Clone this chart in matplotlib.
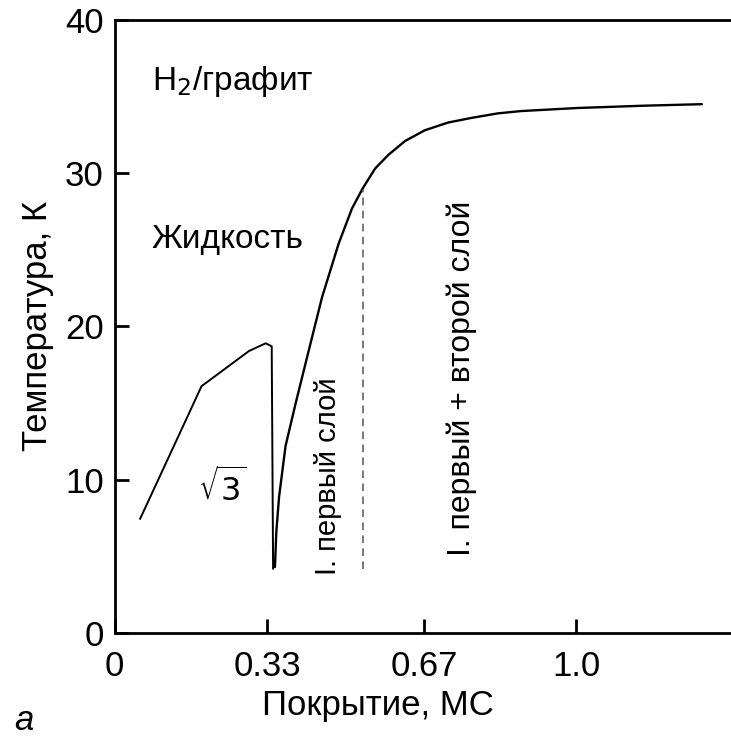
import matplotlib
matplotlib.use('Agg')
import matplotlib.pyplot as plt
from matplotlib import font_manager

# pick a narrow face if one is installed, the original uses a condensed sans
names = {f.name for f in font_manager.fontManager.ttflist}
narrow = [n for n in ['Liberation Sans Narrow', 'DejaVu Sans Condensed'] if n in names]
plt.rcParams['font.family'] = narrow + ['Liberation Sans', 'DejaVu Sans']
k = 1.12 if narrow else 1.0

# sqrt3 phase boundary
sqrt3_x = [0.055, 0.188, 0.291, 0.327, 0.340, 0.343]
sqrt3_y = [7.45, 16.1, 18.4, 18.9, 18.7, 4.2]

# melting curve of first layer -> first + second layer
melt_x = [0.347, 0.350, 0.356, 0.370, 0.392, 0.420, 0.449, 0.485, 0.514, 0.537,
          0.564, 0.593, 0.629, 0.672, 0.722, 0.772, 0.830, 0.880, 1.002, 1.146, 1.272]
melt_y = [4.3, 6.6, 8.9, 12.2, 15.0, 18.4, 21.9, 25.4, 27.7, 29.0,
          30.3, 31.2, 32.1, 32.8, 33.3, 33.6, 33.9, 34.05, 34.25, 34.4, 34.5]

# completion of first layer
layer_x = 0.537
layer_y = [4.2, 28.9]

xticks = [0, 0.33, 0.67, 1.0]
xtick_labels = ['0', '0.33', '0.67', '1.0']
yticks = [0, 10, 20, 30, 40]

fig = plt.figure(figsize=(7.31, 7.36), dpi=100)
ax = fig.add_axes([0.157, 0.14, 0.843, 0.833])

ax.plot(sqrt3_x, sqrt3_y, color='black', lw=1.4, solid_joinstyle='round')
ax.plot(melt_x, melt_y, color='black', lw=1.7, solid_joinstyle='round', solid_capstyle='round')
ax.plot([layer_x, layer_x], layer_y, color='#555555', lw=1.1, ls=(0, (5, 3.5)))

ax.set_xlim(0, 1.335)
ax.set_ylim(0, 40)
ax.set_xticks(xticks)
ax.set_xticklabels(xtick_labels)
ax.set_yticks(yticks)
ax.tick_params(direction='in', length=10, width=2, labelsize=25 * k, pad=8)
ax.tick_params(axis='x', pad=12)
for side in ['left', 'bottom', 'top']:
    ax.spines[side].set_linewidth(2)
ax.spines['right'].set_visible(False)

ax.set_xlabel('Покрытие, МС', fontsize=25 * k)
ax.xaxis.set_label_coords(0.427, -0.092)
ax.set_ylabel('Температура, К', fontsize=25 * k, labelpad=8)

ax.text(0.08, 36, 'H$_2$/графит', fontsize=24 * k, ha='left', va='center')
ax.text(0.08, 25.7, 'Жидкость', fontsize=24 * k, ha='left', va='center')
ax.text(0.18, 9.4, r'$\sqrt{3}$', fontsize=23 * k, ha='left', va='center')
ax.text(0.463, 3.8, 'I. первый слой', fontsize=21 * k, rotation=90, ha='center', va='bottom')
ax.text(0.752, 5.0, 'I. первый + второй слой', fontsize=23 * k, rotation=90, ha='center', va='bottom')

fig.text(0.02, -0.002, 'а', fontsize=25 * k, style='italic', ha='left', va='bottom')

fig.savefig('out.png', dpi=100)
